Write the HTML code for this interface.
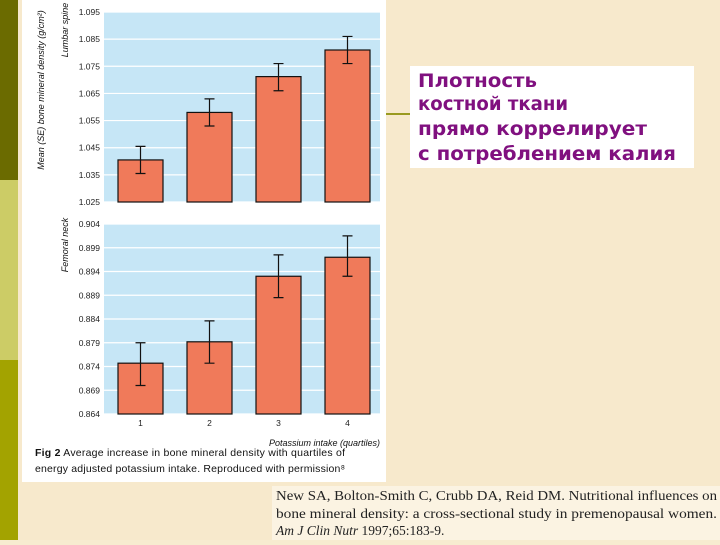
<!DOCTYPE html>
<html><head><meta charset="utf-8"><style>
body{margin:0;width:720px;height:540px;overflow:hidden;background:#f7ecd0;font-family:"Liberation Sans",sans-serif}
</style></head><body>
<svg width="720" height="540" xmlns="http://www.w3.org/2000/svg">
<rect width="720" height="540" fill="#f7e9cc"/>
<rect x="0" y="0" width="18" height="180" fill="#6b6b00"/>
<rect x="0" y="180" width="18" height="180" fill="#cccc66"/>
<rect x="0" y="360" width="18" height="180" fill="#a3a300"/>
<rect x="22" y="0" width="364" height="482" fill="#fff"/>
<g id="charts"></g>
<text x="35" y="456" font-size="10.5" fill="#111" textLength="310" lengthAdjust="spacing"><tspan font-weight="bold">Fig 2</tspan> Average increase in bone mineral density with quartiles of</text>
<text x="35" y="472" font-size="10.5" fill="#111" textLength="310" lengthAdjust="spacing">energy adjusted potassium intake. Reproduced with permission⁸</text>
<text x="380" y="446" font-size="9" font-style="italic" text-anchor="end" fill="#111">Potassium intake (quartiles)</text>
<text transform="translate(44,90) rotate(-90)" font-size="9" font-style="italic" text-anchor="middle" fill="#111">Mean (SE) bone mineral density (g/cm²)</text>
<text transform="translate(68,30) rotate(-90)" font-size="9" font-style="italic" text-anchor="middle" fill="#111">Lumbar spine</text>
<text transform="translate(68,245) rotate(-90)" font-size="9" font-style="italic" text-anchor="middle" fill="#111">Femoral neck</text>
<line x1="386" y1="114" x2="410" y2="114" stroke="#9a9a20" stroke-width="2"/>
<rect x="410" y="66" width="284" height="102" fill="#fff"/>
<g font-family="DejaVu Sans,sans-serif" font-size="18.5" font-weight="bold" fill="#80107f">
<text x="418" y="87" textLength="119" lengthAdjust="spacingAndGlyphs">Плотность</text>
<text x="418" y="110" textLength="150" lengthAdjust="spacingAndGlyphs">костной ткани</text>
<text x="418" y="135" textLength="229" lengthAdjust="spacingAndGlyphs">прямо коррелирует</text>
<text x="418" y="160" textLength="258" lengthAdjust="spacingAndGlyphs">с потреблением калия</text>
</g>
<rect x="272" y="486" width="448" height="54" fill="#fbf3e2"/>
<g font-family="Liberation Serif,serif" font-size="13.5" fill="#222">
<text x="276" y="500" textLength="441" lengthAdjust="spacingAndGlyphs">New SA, Bolton-Smith C, Crubb DA, Reid DM. Nutritional influences on</text>
<text x="276" y="518" textLength="441" lengthAdjust="spacingAndGlyphs">bone mineral density: a cross-sectional study in premenopausal women.</text>
<text x="276" y="535"><tspan font-style="italic">Am J Clin Nutr</tspan> 1997;65:183-9.</text>
</g>
</svg>
<script>
const categories=["1","2","3","4"];
const spineValues=[1.0405,1.058,1.0712,1.081];
const spineErrLow=[1.0355,1.053,1.066,1.076];
const spineErrHigh=[1.0455,1.063,1.076,1.086];
const spineTicks=[1.095,1.085,1.075,1.065,1.055,1.045,1.035,1.025];
const neckValues=[0.8747,0.8792,0.893,0.897];
const neckErrLow=[0.870,0.8747,0.8885,0.893];
const neckErrHigh=[0.879,0.8836,0.8975,0.9015];
const neckTicks=[0.904,0.899,0.894,0.889,0.884,0.879,0.874,0.869,0.864];
const NS="http://www.w3.org/2000/svg";
const g=document.getElementById('charts');
function mk(t,a){const e=document.createElementNS(NS,t);for(const k in a)e.setAttribute(k,a[k]);g.appendChild(e);return e;}
const x0=104,x1=380,slot=(x1-x0)/4,bw=45;
function xc(i){return x0+slot*(i+0.5)+2;}
function panel(top,bot,min,max,vals,lo,hi,ticks,name){
  const y=v=>bot-(v-min)/(max-min)*(bot-top);
  const bg=mk('rect',{x:x0,y:top,width:x1-x0,height:bot-top,fill:'#c6e6f6'});
  
  
  ticks.forEach(t=>{
    const l=mk('line',{x1:x0,x2:x1,y1:y(t),y2:y(t),stroke:'#fff','stroke-width':1.2});
    
    
    const tx=mk('text',{x:x0-4,y:y(t)+3,'font-size':8.5,'text-anchor':'end',fill:'#222'});
    tx.textContent=t.toFixed(3);
    
    
  });
  vals.forEach((v,i)=>{
    const b=mk('rect',{x:xc(i)-bw/2,y:y(v),width:bw,height:bot-y(v),fill:'#f07a5a',stroke:'#111','stroke-width':1.2});
    
    
    const e=mk('path',{d:`M${xc(i)},${y(lo[i])}V${y(hi[i])}M${xc(i)-5},${y(lo[i])}h10M${xc(i)-5},${y(hi[i])}h10`,stroke:'#111','stroke-width':1.2,fill:'none'});
    
    
  });
}
panel(12,202,1.025,1.095,spineValues,spineErrLow,spineErrHigh,spineTicks,'spine');
panel(224,414,0.864,0.904,neckValues,neckErrLow,neckErrHigh,neckTicks,'neck');
categories.forEach((c,i)=>{
  const t=mk('text',{x:xc(i),y:426,'font-size':8.5,'text-anchor':'middle',fill:'#222'});
  t.textContent=c;
  
  
});
</script>
</body></html>
